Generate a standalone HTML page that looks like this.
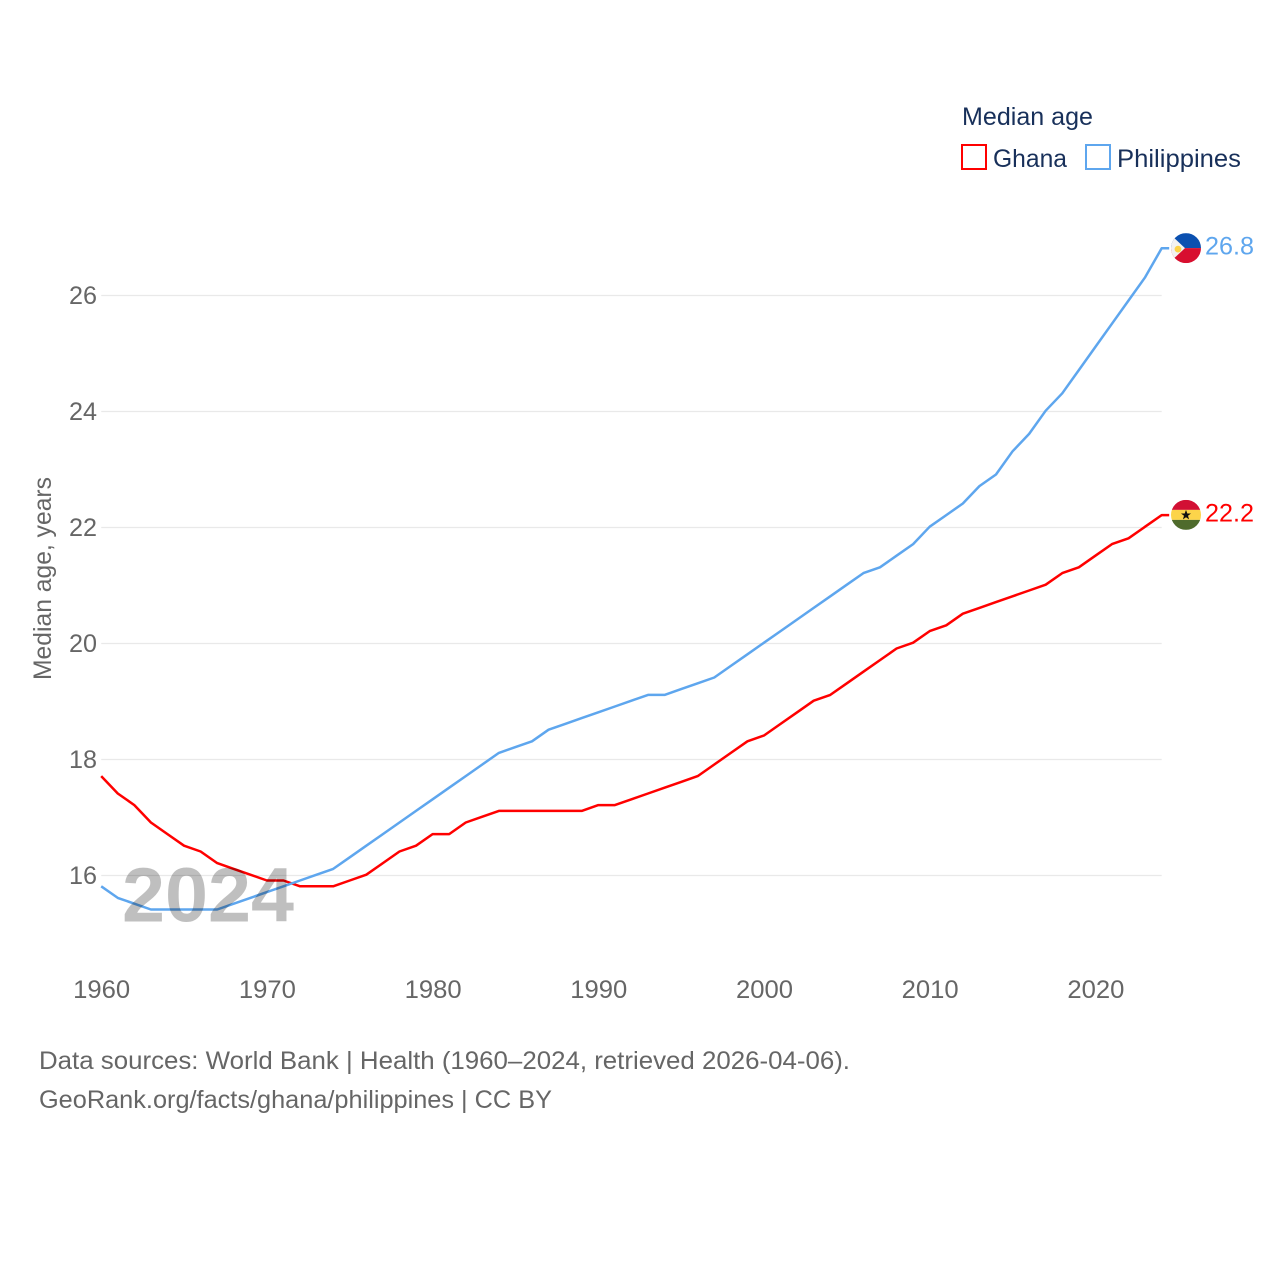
<!DOCTYPE html>
<html lang="en">
<head>
<meta charset="utf-8">
<title>Median age: Ghana and Philippines</title>
<style>
html,body{margin:0;padding:0;background:#fff;}
svg{display:block;}
text{font-family:"Liberation Sans",sans-serif;}
</style>
</head>
<body>
<svg id="chart" width="1280" height="1280" viewBox="0 0 1280 1280" xmlns="http://www.w3.org/2000/svg">
  <rect width="1280" height="1280" fill="#ffffff"/>
  <defs>
    <clipPath id="ph-clip"><circle cx="0" cy="0" r="15"/></clipPath>
    <clipPath id="gh-clip"><circle cx="0" cy="0" r="15"/></clipPath>
  </defs>
  <g id="grid"></g>
  <g id="y-ticks"></g>
  <g id="x-ticks"></g>
  <text transform="translate(51,680) rotate(-90)" font-size="25" fill="#666666" textLength="203" lengthAdjust="spacingAndGlyphs">Median age, years</text>
  <g id="series"></g>

  <g id="flag-ph">
    <g clip-path="url(#ph-clip)">
      <rect x="-15" y="-15" width="30" height="15" fill="#0b50b0"/>
      <rect x="-15" y="0" width="30" height="15" fill="#d80f2f"/>
      <polygon points="-17,-15 -1,0 -17,15" fill="#f2f2f2"/>
      <circle cx="-8" cy="1" r="3.4" fill="#fcd34a"/>
    </g>
  </g>
  <g id="flag-gh">
    <g clip-path="url(#gh-clip)">
      <rect x="-15" y="-15" width="30" height="10" fill="#d21034"/>
      <rect x="-15" y="-5" width="30" height="10" fill="#fcd44a"/>
      <rect x="-15" y="5" width="30" height="10" fill="#4f6b2c"/>
      <polygon points="0,-5 1.3,-1.4 5,-1.4 2,0.9 3.1,4.5 0,2.3 -3.1,4.5 -2,0.9 -5,-1.4 -1.3,-1.4" fill="#111111"/>
    </g>
  </g>
  <text id="label-ph" font-size="25" fill="#5ea6ee" textLength="49" lengthAdjust="spacingAndGlyphs"></text>
  <text id="label-gh" font-size="25" fill="#ff0000" textLength="49" lengthAdjust="spacingAndGlyphs"></text>

  <text x="122" y="921.5" font-size="77" font-weight="700" fill="#000000" fill-opacity="0.25" textLength="172" lengthAdjust="spacingAndGlyphs">2024</text>

  <g>
    <text x="962" y="125" font-size="25" fill="#18305a" textLength="131" lengthAdjust="spacingAndGlyphs">Median age</text>
    <g>
      <rect x="962" y="145" width="24" height="24" fill="none" stroke="#ff0000" stroke-width="2"/>
      <text x="993" y="167" font-size="25" fill="#18305a" textLength="74" lengthAdjust="spacingAndGlyphs">Ghana</text>
    </g>
    <g>
      <rect x="1086" y="145" width="24" height="24" fill="none" stroke="#5ea6ee" stroke-width="2"/>
      <text x="1117" y="167" font-size="25" fill="#18305a" textLength="124" lengthAdjust="spacingAndGlyphs">Philippines</text>
    </g>
  </g>

  <text x="39" y="1069" font-size="25" fill="#666666" textLength="811" lengthAdjust="spacingAndGlyphs">Data sources: World Bank | Health (1960–2024, retrieved 2026-04-06).</text>
  <text x="39" y="1108" font-size="25" fill="#666666" textLength="513" lengthAdjust="spacingAndGlyphs">GeoRank.org/facts/ghana/philippines | CC BY</text>
</svg>
<script>
const startYear = 1960;
const yTickValues = [16, 18, 20, 22, 24, 26];
const xTickValues = [1960, 1970, 1980, 1990, 2000, 2010, 2020];
const ghanaValues = [17.7,17.4,17.2,16.9,16.7,16.5,16.4,16.2,16.1,16.0,15.9,15.9,15.8,15.8,15.8,15.9,16.0,16.2,16.4,16.5,16.7,16.7,16.9,17.0,17.1,17.1,17.1,17.1,17.1,17.1,17.2,17.2,17.3,17.4,17.5,17.6,17.7,17.9,18.1,18.3,18.4,18.6,18.8,19.0,19.1,19.3,19.5,19.7,19.9,20.0,20.2,20.3,20.5,20.6,20.7,20.8,20.9,21.0,21.2,21.3,21.5,21.7,21.8,22.0,22.2];
const philippinesValues = [15.8,15.6,15.5,15.4,15.4,15.4,15.4,15.4,15.5,15.6,15.7,15.8,15.9,16.0,16.1,16.3,16.5,16.7,16.9,17.1,17.3,17.5,17.7,17.9,18.1,18.2,18.3,18.5,18.6,18.7,18.8,18.9,19.0,19.1,19.1,19.2,19.3,19.4,19.6,19.8,20.0,20.2,20.4,20.6,20.8,21.0,21.2,21.3,21.5,21.7,22.0,22.2,22.4,22.7,22.9,23.3,23.6,24.0,24.3,24.7,25.1,25.5,25.9,26.3,26.8];

const NS = 'http://www.w3.org/2000/svg';
function xScale(year) { return 101.2 + (year - 1960) * (1095.4 - 101.2) / 60; }
function yScale(value) { return 875.5 - (value - 16) * 58; }
const seriesOffsetY = -0.8;

const grid = document.getElementById('grid');
const yTicks = document.getElementById('y-ticks');
const xTicks = document.getElementById('x-ticks');
const series = document.getElementById('series');
const lastYear = startYear + ghanaValues.length - 1;

yTickValues.forEach(function (v) {
  const line = document.createElementNS(NS, 'line');
  
  
  line.setAttribute('x1', xScale(startYear));
  line.setAttribute('x2', xScale(lastYear));
  line.setAttribute('y1', yScale(v));
  line.setAttribute('y2', yScale(v));
  line.setAttribute('stroke', '#e9e9e9');
  line.setAttribute('stroke-width', '1.25');
  grid.appendChild(line);

  const t = document.createElementNS(NS, 'text');
  
  
  t.setAttribute('x', 69);
  t.setAttribute('y', yScale(v) + 8.5);
  t.setAttribute('font-size', '25');
  t.setAttribute('fill', '#666666');
  t.setAttribute('textLength', '28');
  t.setAttribute('lengthAdjust', 'spacingAndGlyphs');
  t.textContent = String(v);
  yTicks.appendChild(t);
});

xTickValues.forEach(function (y) {
  const t = document.createElementNS(NS, 'text');
  
  
  t.setAttribute('x', xScale(y) - 28);
  t.setAttribute('y', 998);
  t.setAttribute('font-size', '25');
  t.setAttribute('fill', '#666666');
  t.setAttribute('textLength', '57');
  t.setAttribute('lengthAdjust', 'spacingAndGlyphs');
  t.textContent = String(y);
  xTicks.appendChild(t);
});

function drawLine(values, color, name) {
  const pts = values.map(function (v, i) {
    return xScale(startYear + i).toFixed(2) + ',' + (yScale(v) + seriesOffsetY).toFixed(2);
  });
  const end = values[values.length - 1];
  pts.push((xScale(lastYear) + 7.5).toFixed(2) + ',' + (yScale(end) + seriesOffsetY).toFixed(2));
  const p = document.createElementNS(NS, 'polyline');
  
  
  p.setAttribute('points', pts.join(' '));
  p.setAttribute('fill', 'none');
  p.setAttribute('stroke', color);
  p.setAttribute('stroke-width', '2.5');
  p.setAttribute('stroke-linejoin', 'round');
  series.appendChild(p);
}
drawLine(ghanaValues, '#ff0000', 'ghana-line');
drawLine(philippinesValues, '#5ea6ee', 'philippines-line');

function placeEnd(flagId, labelId, values) {
  const end = values[values.length - 1];
  const y = yScale(end);
  document.getElementById(flagId).setAttribute('transform', 'translate(1186,' + (y - 1) + ')');
  const label = document.getElementById(labelId);
  label.setAttribute('x', 1205);
  label.setAttribute('y', y + 5.5);
  label.textContent = end.toFixed(1);
}
placeEnd('flag-ph', 'label-ph', philippinesValues);
placeEnd('flag-gh', 'label-gh', ghanaValues);
</script>
</body>
</html>
